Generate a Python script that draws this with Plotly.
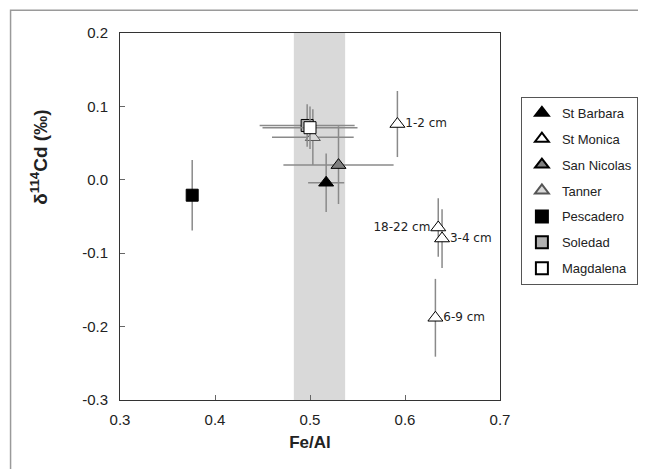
import plotly.graph_objects as go

# ---- data ----
sites = ["St Barbara", "St Monica", "San Nicolas", "Tanner", "Pescadero", "Soledad", "Magdalena"]

st_barbara_x = [0.517]
st_barbara_y = [-0.004]
st_barbara_xerr = [0.019]
st_barbara_yerr = [0.040]

st_monica_x = [0.592, 0.635, 0.639, 0.632]
st_monica_y = [0.076, -0.065, -0.080, -0.188]
st_monica_yerr = [0.045, 0.040, 0.040, 0.053]
st_monica_labels = ["1-2 cm", "18-22 cm", "3-4 cm", "6-9 cm"]
st_monica_label_pos = ["middle right", "middle left", "middle right", "middle right"]

san_nicolas_x = [0.530]
san_nicolas_y = [0.020]
san_nicolas_xerr = [0.058]
san_nicolas_yerr = [0.053]

tanner_x = [0.503]
tanner_y = [0.058]
tanner_xerr = [0.043]
tanner_yerr = [0.038]

pescadero_x = [0.376]
pescadero_y = [-0.021]
pescadero_yerr = [0.048]

soledad_x = [0.497]
soledad_y = [0.074]
soledad_xerr = [0.050]
soledad_yerr = [0.029]

magdalena_x = [0.500]
magdalena_y = [0.071]
magdalena_xerr = [0.050]
magdalena_yerr = [0.029]

band_range = [0.483, 0.537]

x_ticks = [0.3, 0.4, 0.5, 0.6, 0.7]
x_ticktext = ["0.3", "0.4", "0.5", "0.6", "0.7"]
y_ticks = [0.2, 0.1, 0.0, -0.1, -0.2, -0.3]
y_ticktext = ["0.2", "0.1", "0.0", "-0.1", "-0.2", "-0.3"]

# ---- figure ----
ERR = "#8a8a8a"
FONT = "Liberation Sans, Arial"
fig = go.Figure()

def err(vals):
    if vals is None:
        return dict(visible=False)
    return dict(type="data", array=vals, color=ERR, thickness=1.5, width=0)

def add(name, x, y, xerr, yerr, symbol, fill, line_color="black", size=13):
    fig.add_trace(go.Scatter(
        x=x, y=y, mode="markers", name=name, legendgroup=name,
        error_x=err(xerr), error_y=err(yerr),
        marker=dict(symbol=symbol, size=size, color=fill,
                    line=dict(color=line_color, width=1)),
    ))

add("St Barbara", st_barbara_x, st_barbara_y, st_barbara_xerr, st_barbara_yerr, "triangle-up", "black")
add("St Monica", st_monica_x, st_monica_y, None, st_monica_yerr, "triangle-up", "white")
add("San Nicolas", san_nicolas_x, san_nicolas_y, san_nicolas_xerr, san_nicolas_yerr, "triangle-up", "#7f7f7f")
add("Tanner", tanner_x, tanner_y, tanner_xerr, tanner_yerr, "triangle-up", "#d8d8d8", line_color="#555555")
add("Pescadero", pescadero_x, pescadero_y, None, pescadero_yerr, "square", "black", size=12)
add("Soledad", soledad_x, soledad_y, soledad_xerr, soledad_yerr, "square", "#b0b0b0", size=12)
add("Magdalena", magdalena_x, magdalena_y, magdalena_xerr, magdalena_yerr, "square", "white", size=12)

# depth labels for St Monica (invisible markers give the text its offset)
fig.add_trace(go.Scatter(
    x=st_monica_x, y=st_monica_y, mode="markers+text", text=st_monica_labels,
    textposition=st_monica_label_pos, showlegend=False, hoverinfo="skip",
    marker=dict(size=11, opacity=0),
    textfont=dict(family="DejaVu Sans", size=12, color="#222222"),
))

fig.add_shape(type="rect", xref="x", yref="paper", x0=band_range[0], x1=band_range[1],
              y0=0, y1=1, fillcolor="#d9d9d9", line=dict(width=0), layer="below")

# outer frame
fig.add_shape(type="rect", xref="paper", yref="paper", x0=-0.288, x1=1.5, y0=-0.5, y1=1.062,
              line=dict(color="#9a9a9a", width=1.5), fillcolor="rgba(0,0,0,0)")

# y-axis title (placed off-centre as in the original)
fig.add_annotation(text="<b>δ<sup>114</sup>Cd (‰)</b>", xref="paper", yref="paper",
                   x=-0.214, y=0.662, textangle=-90, showarrow=False,
                   xanchor="center", yanchor="middle",
                   font=dict(family=FONT, size=19, color="#222222"))

axis_common = dict(showline=True, linecolor="#333333", linewidth=1, mirror=True,
                   ticks="inside", ticklen=5, tickcolor="#666666", showgrid=False, zeroline=False,
                   tickfont=dict(family=FONT, size=15, color="#222222"))

fig.update_xaxes(range=[0.3, 0.7], tickvals=x_ticks, ticktext=x_ticktext,
                 title=dict(text="<b>Fe/Al</b>", font=dict(family=FONT, size=17, color="#222222"), standoff=9),
                 ticklabelstandoff=6, **axis_common)
fig.update_yaxes(range=[-0.3, 0.2], tickvals=y_ticks, ticktext=y_ticktext,
                 ticklabelstandoff=8, **axis_common)

# the page body adds an 8px offset, margins compensate for it
fig.update_layout(
    width=646, height=469,
    margin=dict(l=111.5, r=154, t=24.7, b=77, autoexpand=False),
    paper_bgcolor="white", plot_bgcolor="white",
    legend=dict(x=1.055, y=0.826, xanchor="left", yanchor="top",
                bordercolor="#555555", borderwidth=1, bgcolor="white",
                font=dict(family=FONT, size=13, color="#222222"),
                tracegroupgap=6, itemwidth=30, itemsizing="constant", traceorder="grouped"),
    showlegend=True,
)

fig.write_html("out.html")
